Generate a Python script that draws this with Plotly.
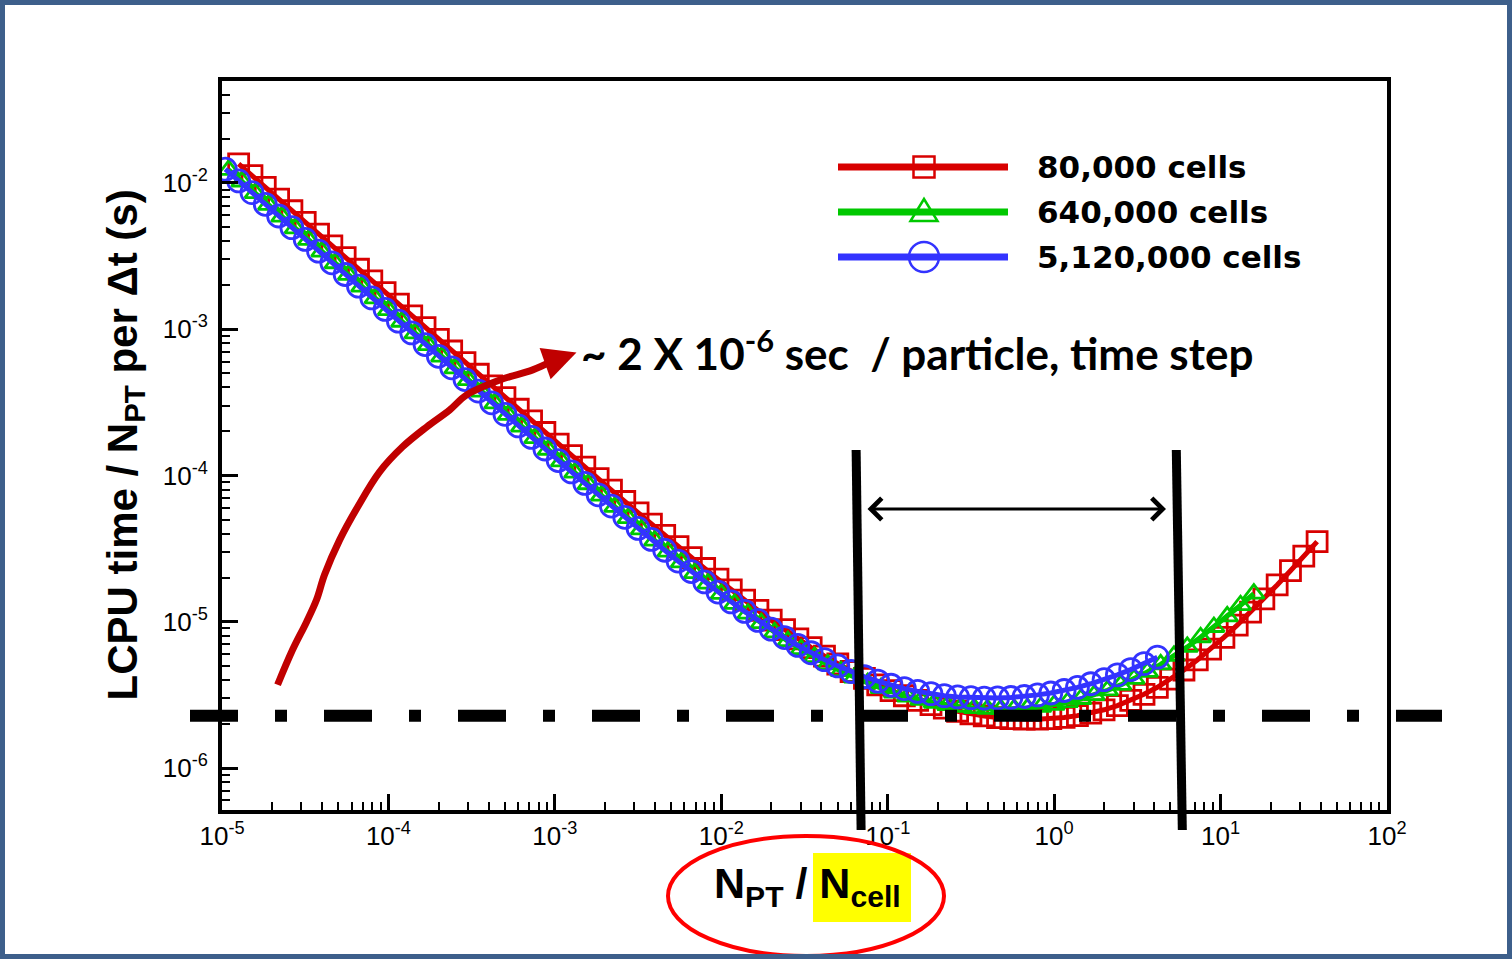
import plotly.graph_objects as go

# ------------------------------------------------------------------
# Data (log10 of x = N_PT/N_cell, log10 of y = s)
# ------------------------------------------------------------------
SERIES_NAMES = ["80,000 cells", "640,000 cells", "5,120,000 cells"]

RED_LOG_X = [-4.90, -4.82, -4.74, -4.66, -4.58, -4.50, -4.42, -4.34, -4.26, -4.18,
             -4.10, -4.02, -3.94, -3.86, -3.78, -3.70, -3.62, -3.54, -3.46, -3.38,
             -3.30, -3.22, -3.14, -3.06, -2.98, -2.90, -2.82, -2.74, -2.66, -2.58,
             -2.50, -2.42, -2.34, -2.26, -2.18, -2.10, -2.02, -1.94, -1.86, -1.78,
             -1.70, -1.62, -1.54, -1.46, -1.38, -1.30, -1.22, -1.14, -1.06, -0.98,
             -0.90, -0.82, -0.74, -0.66, -0.58, -0.50, -0.42, -0.34, -0.26, -0.18,
             -0.10, -0.02, 0.06, 0.14, 0.22, 0.30, 0.38, 0.46, 0.54, 0.62,
             0.70, 0.78, 0.86, 0.94, 1.02, 1.10, 1.18, 1.26, 1.34, 1.42,
             1.50, 1.58]
RED_LOG_Y = [-1.870, -1.950, -2.030, -2.110, -2.190, -2.270, -2.350, -2.430, -2.510, -2.590,
             -2.670, -2.750, -2.829, -2.909, -2.989, -3.069, -3.149, -3.229, -3.308, -3.388,
             -3.468, -3.547, -3.627, -3.706, -3.785, -3.864, -3.943, -4.022, -4.100, -4.178,
             -4.256, -4.333, -4.410, -4.486, -4.561, -4.636, -4.709, -4.782, -4.852, -4.922,
             -4.989, -5.054, -5.117, -5.177, -5.235, -5.289, -5.340, -5.387, -5.431, -5.471,
             -5.506, -5.538, -5.567, -5.591, -5.612, -5.630, -5.644, -5.655, -5.662, -5.665,
             -5.666, -5.662, -5.654, -5.642, -5.625, -5.602, -5.573, -5.538, -5.496, -5.448,
             -5.392, -5.330, -5.261, -5.187, -5.107, -5.023, -4.934, -4.843, -4.748, -4.651,
             -4.552, -4.452]

GREEN_LOG_X = [-4.96, -4.88, -4.80, -4.72, -4.64, -4.56, -4.48, -4.40, -4.32, -4.24,
               -4.16, -4.08, -4.00, -3.92, -3.84, -3.76, -3.68, -3.60, -3.52, -3.44,
               -3.36, -3.28, -3.20, -3.12, -3.04, -2.96, -2.88, -2.80, -2.72, -2.64,
               -2.56, -2.48, -2.40, -2.32, -2.24, -2.16, -2.08, -2.00, -1.92, -1.84,
               -1.76, -1.68, -1.60, -1.52, -1.44, -1.36, -1.28, -1.20, -1.12, -1.04,
               -0.96, -0.88, -0.80, -0.72, -0.64, -0.56, -0.48, -0.40, -0.32, -0.24,
               -0.16, -0.08, 0.00, 0.08, 0.16, 0.24, 0.32, 0.40, 0.48, 0.56,
               0.64, 0.72, 0.80, 0.88, 0.96, 1.04, 1.12, 1.20]
GREEN_LOG_Y = [-1.910, -1.990, -2.070, -2.150, -2.230, -2.310, -2.389, -2.469, -2.549, -2.629,
               -2.709, -2.789, -2.869, -2.949, -3.029, -3.109, -3.188, -3.268, -3.348, -3.427,
               -3.507, -3.586, -3.666, -3.745, -3.824, -3.903, -3.981, -4.060, -4.138, -4.215,
               -4.292, -4.369, -4.445, -4.520, -4.594, -4.667, -4.739, -4.810, -4.878, -4.945,
               -5.010, -5.072, -5.132, -5.188, -5.242, -5.292, -5.338, -5.381, -5.419, -5.454,
               -5.485, -5.511, -5.534, -5.554, -5.569, -5.582, -5.590, -5.596, -5.597, -5.595,
               -5.590, -5.581, -5.568, -5.550, -5.528, -5.501, -5.469, -5.432, -5.390, -5.343,
               -5.291, -5.233, -5.172, -5.106, -5.036, -4.963, -4.887, -4.808]

BLUE_LOG_X = [-4.98, -4.90, -4.82, -4.74, -4.66, -4.58, -4.50, -4.42, -4.34, -4.26,
              -4.18, -4.10, -4.02, -3.94, -3.86, -3.78, -3.70, -3.62, -3.54, -3.46,
              -3.38, -3.30, -3.22, -3.14, -3.06, -2.98, -2.90, -2.82, -2.74, -2.66,
              -2.58, -2.50, -2.42, -2.34, -2.26, -2.18, -2.10, -2.02, -1.94, -1.86,
              -1.78, -1.70, -1.62, -1.54, -1.46, -1.38, -1.30, -1.22, -1.14, -1.06,
              -0.98, -0.90, -0.82, -0.74, -0.66, -0.58, -0.50, -0.42, -0.34, -0.26,
              -0.18, -0.10, -0.02, 0.06, 0.14, 0.22, 0.30, 0.38, 0.46, 0.54,
              0.62]
BLUE_LOG_Y = [-1.906, -1.986, -2.066, -2.146, -2.226, -2.306, -2.386, -2.466, -2.546, -2.626,
              -2.706, -2.786, -2.865, -2.945, -3.025, -3.105, -3.185, -3.264, -3.344, -3.423,
              -3.503, -3.582, -3.661, -3.740, -3.819, -3.898, -3.976, -4.054, -4.132, -4.209,
              -4.286, -4.362, -4.437, -4.511, -4.585, -4.657, -4.728, -4.797, -4.864, -4.929,
              -4.991, -5.051, -5.108, -5.162, -5.212, -5.259, -5.302, -5.340, -5.376, -5.406,
              -5.434, -5.457, -5.476, -5.492, -5.505, -5.514, -5.519, -5.522, -5.521, -5.518,
              -5.511, -5.500, -5.487, -5.470, -5.449, -5.424, -5.396, -5.363, -5.327, -5.286,
              -5.242]

X_TICK_VALS = [1e-5, 1e-4, 1e-3, 1e-2, 1e-1, 1e0, 1e1, 1e2]
X_TICK_TEXT = ["10<sup>-5</sup>", "10<sup>-4</sup>", "10<sup>-3</sup>", "10<sup>-2</sup>",
               "10<sup>-1</sup>", "10<sup>0</sup>", "10<sup>1</sup>", "10<sup>2</sup>"]
Y_TICK_VALS = [1e-6, 1e-5, 1e-4, 1e-3, 1e-2]
Y_TICK_TEXT = ["10<sup>-6</sup>", "10<sup>-5</sup>", "10<sup>-4</sup>", "10<sup>-3</sup>",
               "10<sup>-2</sup>"]

# annotation geometry (data space, log10)
ARROW_LOG_X = [-4.666, -4.576, -4.492, -4.432, -4.384, -4.293, -4.185, -4.053,
               -3.915, -3.770, -3.632, -3.530, -3.331, -3.133, -3.020]
ARROW_LOG_Y = [-5.431, -5.192, -5.001, -4.850, -4.679, -4.440, -4.215, -3.975,
               -3.804, -3.668, -3.552, -3.449, -3.347, -3.278, -3.220]
ARROW_TIP_LOG = (-2.870, -3.160)
FLOOR_LEVEL = 2.28e-6            # dash-dot reference level (s)
BAND_X = [(0.0646, 0.0692), (5.42, 5.89)]   # optimum-range bars (top, bottom)

# ------------------------------------------------------------------
W, H = 1512, 959
L, R, T, B = 222, 1387, 81, 810


def px(x):
    return (x - L) / (R - L)


def py(y):
    return (B - y) / (B - T)


RED, GREEN, BLUE, DARKRED = "#D80000", "#00C800", "#3333FF", "#C00000"
FONT = "Liberation Sans, Arial, sans-serif"

fig = go.Figure()

styles = [("square-open", 20, RED), ("triangle-up-open", 18, GREEN), ("circle-open", 22, BLUE)]
datasets = [(RED_LOG_X, RED_LOG_Y), (GREEN_LOG_X, GREEN_LOG_Y), (BLUE_LOG_X, BLUE_LOG_Y)]
for name, (lx, ly), (sym, size, col) in zip(SERIES_NAMES, datasets, styles):
    fig.add_trace(go.Scatter(
        x=[10 ** v for v in lx], y=[10 ** v for v in ly], name=name,
        mode="lines+markers", line=dict(color=col, width=5),
        marker=dict(symbol=sym, size=size, color=col, line=dict(width=2.8, color=col)),
        hoverinfo="skip", showlegend=False))

# red hand-drawn arrow
fig.add_trace(go.Scatter(
    x=[10 ** v for v in ARROW_LOG_X], y=[10 ** v for v in ARROW_LOG_Y],
    mode="lines", line=dict(color=DARKRED, width=7, shape="spline"),
    hoverinfo="skip", showlegend=False))

shapes = []
# dash-dot floor line (extends beyond the frame)
shapes.append(dict(type="line", xref="paper", yref="y", x0=px(190), x1=px(1442),
                   y0=FLOOR_LEVEL, y1=FLOOR_LEVEL,
                   line=dict(color="black", width=12, dash="48px,37px,12px,37px")))
# vertical range bars
for (xt, xb) in BAND_X:
    shapes.append(dict(type="line", xref="x", yref="paper", x0=xt, x1=xb,
                       y0=py(450), y1=py(830), line=dict(color="black", width=9)))

# legend (drawn manually so the sample lines are long)
rows = [167, 212, 257]
for yy, col in zip(rows, [RED, GREEN, BLUE]):
    shapes.append(dict(type="line", xref="paper", yref="paper", x0=px(838), x1=px(1008),
                       y0=py(yy), y1=py(yy), line=dict(color=col, width=7)))
mx = 924
shapes.append(dict(type="rect", xref="paper", yref="paper", x0=px(mx - 10.5), x1=px(mx + 10.5),
                   y0=py(rows[0] - 10.5), y1=py(rows[0] + 10.5), line=dict(color=RED, width=2.5)))
tri = "M {} {} L {} {} L {} {} Z".format(px(mx), py(199), px(mx - 13.5), py(221), px(mx + 13.5), py(221))
shapes.append(dict(type="path", xref="paper", yref="paper", path=tri, line=dict(color=GREEN, width=2.5)))
shapes.append(dict(type="circle", xref="paper", yref="paper", x0=px(mx - 15), x1=px(mx + 15),
                   y0=py(rows[2] - 15), y1=py(rows[2] + 15), line=dict(color=BLUE, width=2.5)))

# x-title highlight & ellipse
shapes.append(dict(type="rect", xref="paper", yref="paper", x0=px(813), x1=px(911),
                   y0=py(853), y1=py(922), fillcolor="#FFFF00", line=dict(width=0), layer="below"))
shapes.append(dict(type="circle", xref="paper", yref="paper", x0=px(668), x1=px(944),
                   y0=py(836), y1=py(956), line=dict(color="#FF0000", width=4)))
# slide border
shapes.append(dict(type="rect", xref="paper", yref="paper", x0=px(2.5), x1=px(W - 2.5),
                   y0=py(2.5), y1=py(H - 2.5), line=dict(color="#3D5F8B", width=5)))

annotations = []
for txt, yy in zip(SERIES_NAMES, rows):
    annotations.append(dict(xref="paper", yref="paper", x=px(1035), y=py(yy), text=txt,
                            xanchor="left", yanchor="middle", showarrow=False,
                            font=dict(family="DejaVu Sans", size=31, color="black", weight="bold")))
annotations.append(dict(xref="paper", yref="paper", x=px(917), y=py(350),
                        text="~ 2 X 10<sup>-6</sup> sec \u00a0/ particle, time step",
                        xanchor="center", yanchor="middle", showarrow=False,
                        font=dict(family="Lato", size=44, color="black", weight="bold")))
annotations.append(dict(xref="x", yref="y", x=ARROW_TIP_LOG[0], y=ARROW_TIP_LOG[1],
                        axref="x", ayref="y", ax=ARROW_LOG_X[-1], ay=ARROW_LOG_Y[-1],
                        text="", showarrow=True, arrowhead=2, arrowsize=0.95,
                        arrowwidth=7, arrowcolor=DARKRED, standoff=0))
annotations.append(dict(xref="paper", yref="paper", x=px(1166), y=py(509), ax=-300, ay=0,
                        axref="pixel", ayref="pixel", text="", showarrow=True,
                        arrowside="end+start", arrowhead=4, arrowsize=1.4, arrowwidth=3,
                        arrowcolor="black", standoff=0, startstandoff=0))
annotations.append(dict(xref="paper", yref="paper", x=px(125), y=0.5,
                        text="LCPU time / N<sub>PT</sub> per \u0394t (s)", textangle=-90,
                        xanchor="center", yanchor="middle", showarrow=False,
                        font=dict(family=FONT, size=42, color="black", weight="bold")))
annotations.append(dict(xref="paper", yref="paper", x=px(807), y=py(886),
                        text="N<sub>PT</sub> / N<sub>cell</sub>",
                        xanchor="center", yanchor="middle", showarrow=False,
                        font=dict(family=FONT, size=43, color="black", weight="bold")))

x_minor = [m * 10.0 ** e for e in range(-5, 2) for m in range(2, 10)]
y_minor = [m * 10.0 ** e for e in range(-7, -1) for m in range(2, 10)]

axis_common = dict(type="log", tickmode="array", ticks="inside", ticklen=16, tickwidth=3,
                   tickcolor="black", showline=True, linecolor="black", linewidth=4,
                   mirror=True, showgrid=False, zeroline=False,
                   tickfont=dict(family=FONT, size=26, color="black"))

fig.update_layout(
    width=W, height=H, autosize=False,
    margin=dict(l=L, r=W - R, t=T, b=H - B, pad=0),
    paper_bgcolor="white", plot_bgcolor="white",
    xaxis=dict(range=[-5, 2], tickvals=X_TICK_VALS, ticktext=X_TICK_TEXT,
               minor=dict(tickmode="array", tickvals=x_minor, ticks="inside", ticklen=8,
                          tickwidth=1.5, tickcolor="black", showgrid=False),
               **axis_common),
    yaxis=dict(range=[-6.287, -1.303], tickvals=Y_TICK_VALS, ticktext=Y_TICK_TEXT,
               ticklabelstandoff=5,
               minor=dict(tickmode="array", tickvals=y_minor, ticks="inside", ticklen=8,
                          tickwidth=1.5, tickcolor="black", showgrid=False),
               **axis_common),
    shapes=shapes, annotations=annotations, showlegend=False,
)

fig.write_html("out.html", config={"displayModeBar": False},
               post_script="document.body.style.margin='0px';")
